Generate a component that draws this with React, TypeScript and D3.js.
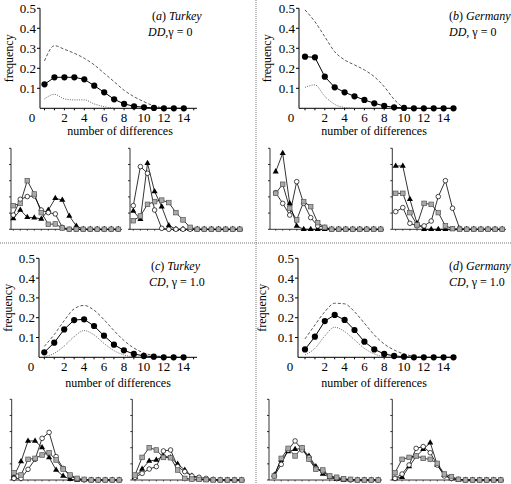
import React from "react";
import * as d3 from "d3";

// ---------- data ----------
const xTickLabels = [2, 4, 6, 8, 10, 12, 14];
const yTickLabels = [0.1, 0.2, 0.3, 0.4, 0.5];
const smallYTicks = [0, 0.1, 0.2, 0.3, 0.4, 0.5];

// (a) Turkey DD
const turkeyDDObs = [0.12, 0.155, 0.155, 0.155, 0.145, 0.113, 0.08, 0.045, 0.022, 0.01, 0.005, 0.002, 0, 0, 0];
const turkeyDDUpper = [0.237, 0.313, 0.295, 0.275, 0.25, 0.217, 0.175, 0.133, 0.09, 0.058, 0.033, 0.012, 0.002, 0];
const turkeyDDLower = [0.047, 0.07, 0.047, 0.042, 0.042, 0.022, 0.008, 0];
// (b) Germany DD
const germanyDDObs = [0.258, 0.255, 0.158, 0.105, 0.08, 0.06, 0.042, 0.025, 0.012, 0.005, 0.002, 0, 0, 0, 0, 0];
const germanyDDUpper = [0.492, 0.433, 0.358, 0.283, 0.242, 0.217, 0.192, 0.158, 0.108, 0.045, 0];
const germanyDDLower = [0.105, 0.117, 0.06, 0.02, 0.004, 0];
// (c) Turkey CD
const turkeyCDObs = [0.025, 0.074, 0.141, 0.188, 0.192, 0.158, 0.109, 0.064, 0.035, 0.017, 0.007, 0.003, 0, 0, 0];
const turkeyCDUpper = [0.055, 0.115, 0.185, 0.245, 0.262, 0.238, 0.19, 0.135, 0.085, 0.047, 0.022, 0.009, 0.003, 0];
const turkeyCDLower = [0.003, 0.02, 0.057, 0.104, 0.135, 0.113, 0.07, 0.034, 0.012, 0.002, 0];
// (d) Germany CD
const germanyCDObs = [0.04, 0.104, 0.183, 0.214, 0.189, 0.138, 0.079, 0.04, 0.017, 0.007, 0.003, 0, 0, 0, 0, 0];
const germanyCDUpper = [0.093, 0.163, 0.23, 0.273, 0.27, 0.23, 0.172, 0.113, 0.067, 0.037, 0.017, 0.005, 0];
const germanyCDLower = [0.012, 0.045, 0.108, 0.152, 0.13, 0.088, 0.045, 0.017, 0.003, 0];

// small charts: squares (grey), open circles, filled triangles
const aLSquares = [0.146, 0.16, 0.3, 0.218, 0.103, 0.031, 0.033, 0.008, 0, 0, 0, 0, 0, 0, 0, 0];
const aLCircles = [0.088, 0.185, 0.202, 0.206, 0.119, 0.103, 0.095, 0.012, 0, 0, 0, 0, 0, 0, 0, 0];
const aLTriangles = [0.066, 0.119, 0.074, 0.072, 0.064, 0.119, 0.191, 0.181, 0.082, 0.021, 0, 0, 0, 0, 0, 0];

const aRSquares = [0.053, 0.082, 0.154, 0.171, 0.18, 0.165, 0.103, 0.058, 0.012, 0, 0, 0, 0, 0, 0, 0];
const aRCircles = [0.146, 0.387, 0.346, 0.119, 0.006, 0, 0, 0, 0, 0, 0, 0, 0, 0, 0, 0];
const aRTriangles = [0.113, 0.062, 0.407, 0.233, 0.14, 0.024, 0, 0, 0, 0, 0, 0, 0, 0, 0, 0];

const bLSquares = [0.222, 0.278, 0.13, 0.058, 0.171, 0.14, 0.041, 0.012, 0, 0, 0, 0, 0, 0, 0, 0];
const bLCircles = [0.226, 0.16, 0.088, 0.294, 0.16, 0.072, 0.021, 0.012, 0, 0, 0, 0, 0, 0, 0, 0];
const bLTriangles = [0.356, 0.469, 0.16, 0.021, 0, 0, 0, 0, 0, 0, 0, 0, 0, 0, 0, 0];

const bRSquares = [0.222, 0.222, 0.103, 0.027, 0.16, 0.154, 0.103, 0.021, 0.004, 0, 0, 0, 0, 0, 0, 0];
const bRCircles = [0.109, 0.134, 0.037, 0.021, 0.021, 0.051, 0.202, 0.3, 0.13, 0.006, 0, 0, 0, 0, 0, 0];
const bRTriangles = [0.391, 0.391, 0.185, 0.037, 0, 0, 0, 0, 0, 0, 0, 0, 0, 0, 0, 0];

const cLSquares = [0.045, 0.031, 0.128, 0.134, 0.155, 0.169, 0.124, 0.068, 0.031, 0.01, 0.004, 0, 0, 0, 0, 0];
const cLCircles = [0.01, 0.01, 0.066, 0.128, 0.258, 0.295, 0.145, 0.072, 0.025, 0.004, 0, 0, 0, 0, 0, 0];
const cLTriangles = [0.025, 0.114, 0.242, 0.242, 0.202, 0.14, 0.062, 0.025, 0.004, 0, 0, 0, 0, 0, 0, 0];

const cRSquares = [0.031, 0.14, 0.2, 0.186, 0.14, 0.138, 0.062, 0.01, 0.006, 0.004, 0.002, 0, 0, 0, 0, 0];
const cRCircles = [0.017, 0.041, 0.068, 0.083, 0.18, 0.186, 0.083, 0.052, 0.025, 0.017, 0.01, 0.004, 0, 0, 0, 0];
const cRTriangles = [0.017, 0.068, 0.118, 0.124, 0.149, 0.14, 0.099, 0.062, 0.025, 0.01, 0, 0, 0, 0, 0, 0];

const dLSquares = [0.025, 0.134, 0.196, 0.149, 0.2, 0.128, 0.066, 0.062, 0.025, 0.017, 0.008, 0.004, 0, 0, 0, 0];
const dLCircles = [0.025, 0.097, 0.186, 0.242, 0.186, 0.14, 0.072, 0.052, 0.021, 0.01, 0.004, 0, 0, 0, 0, 0];
const dLTriangles = [0.031, 0.124, 0.176, 0.19, 0.196, 0.149, 0.083, 0.037, 0.017, 0.004, 0, 0, 0, 0, 0, 0];

const dRSquares = [0.045, 0.128, 0.14, 0.149, 0.134, 0.128, 0.103, 0.037, 0.021, 0.004, 0, 0, 0, 0, 0, 0];
const dRCircles = [0.01, 0.037, 0.093, 0.196, 0.207, 0.169, 0.093, 0.025, 0.01, 0.004, 0, 0, 0, 0, 0, 0];
const dRTriangles = [0.01, 0.017, 0.083, 0.145, 0.19, 0.231, 0.093, 0.031, 0.01, 0, 0, 0, 0, 0, 0, 0];

// ---------- components ----------
const FONT = "'Liberation Serif', 'Times New Roman', Times, serif";
const FS = 12;
const TICK_FS = 13;

type TopProps = {
  axisX: number; x0: number; unit: number; yTop: number; yBase: number; axisEnd: number;
  obs: number[]; upper: number[]; lower: number[];
  title: React.ReactNode; subtitle: React.ReactNode; labelX: number; subX: number;
  freqX: number; xlabelX: number; xlabelY: number;
};

function TopPanel(p: TopProps) {
  const x = d3.scaleLinear().domain([0, 1]).range([p.x0, p.x0 + p.unit]);
  const y = d3.scaleLinear().domain([0, 0.5]).range([p.yBase, p.yTop]);
  const solid = d3.line<number>().x((_, i) => x(i)).y((d) => y(d));
  const smooth = d3.line<number>().x((_, i) => x(i)).y((d) => y(d)).curve(d3.curveMonotoneX);
  const nTicks = d3.range(0, Math.floor(x.invert(p.axisEnd)) + 1);
  const ts: React.CSSProperties = { fontFamily: FONT };
  return (
    <g fill="#000">
      {/* axes */}
      <line x1={p.axisX} x2={p.axisX} y1={p.yTop} y2={p.yBase} stroke="#000" strokeWidth={1} />
      <line x1={p.axisX} x2={p.axisEnd} y1={p.yBase} y2={p.yBase} stroke="#000" strokeWidth={1} />
      {yTickLabels.map((t) => (
        <g key={t}>
          <line x1={p.axisX - 3} x2={p.axisX} y1={y(t)} y2={y(t)} stroke="#000" />
          <text style={ts} x={p.axisX - 4} y={y(t)} dy="0.35em" textAnchor="end" fontSize={TICK_FS}>{t.toFixed(1)}</text>
        </g>
      ))}
      {nTicks.map((t) => (
        <line key={t} x1={x(t)} x2={x(t)} y1={p.yBase} y2={p.yBase + 2} stroke="#000" />
      ))}
      {xTickLabels.map((t) => (
        <text style={ts} key={t} x={x(t)} y={p.yBase + 13.5} textAnchor="middle" fontSize={TICK_FS}>{t}</text>
      ))}
      <text style={ts} x={p.axisX - 8} y={p.yBase + 13.5} textAnchor="middle" fontSize={TICK_FS}>0</text>
      <text style={ts} x={p.xlabelX} y={p.xlabelY} textAnchor="middle" fontSize={FS}>number of differences</text>
      <text style={ts} transform={`translate(${p.freqX},${(p.yTop + p.yBase) / 2}) rotate(-90)`} textAnchor="middle" fontSize={FS}>frequency</text>
      {/* curves */}
      <path d={smooth(p.upper) || ""} fill="none" stroke="#444" strokeWidth={0.9} strokeDasharray="3,2" />
      <path d={smooth(p.lower) || ""} fill="none" stroke="#555" strokeWidth={0.9} strokeDasharray="1,1.3" />
      <path d={solid(p.obs) || ""} fill="none" stroke="#000" strokeWidth={1} />
      {p.obs.map((v, i) => (
        <circle key={i} cx={x(i)} cy={y(v)} r={3.1} fill="#000" />
      ))}
      <text style={ts} x={p.labelX} y={p.yTop + 12} fontSize={FS}>{p.title}</text>
      <text style={ts} x={p.subX} y={p.yTop + 27.5} fontSize={FS}>{p.subtitle}</text>
    </g>
  );
}

type SmallProps = {
  axisX: number; x0: number; step: number; yTop: number; yBase: number; axisEnd: number;
  squares: number[]; circles: number[]; triangles: number[];
};

function SmallChart(p: SmallProps) {
  const x = d3.scaleLinear().domain([0, 1]).range([p.x0, p.x0 + p.step]);
  const y = d3.scaleLinear().domain([0, 0.5]).range([p.yBase, p.yTop]);
  const line = d3.line<number>().x((_, i) => x(i)).y((d) => y(d));
  const tri = d3.symbol().type(d3.symbolTriangle).size(16);
  return (
    <g>
      <line x1={p.axisX} x2={p.axisX} y1={p.yTop} y2={p.yBase} stroke="#000" strokeWidth={0.8} />
      <line x1={p.axisX} x2={p.axisEnd} y1={p.yBase} y2={p.yBase} stroke="#000" strokeWidth={0.8} />
      {smallYTicks.map((t) => (
        <line key={t} x1={p.axisX - 2} x2={p.axisX} y1={y(t)} y2={y(t)} stroke="#000" strokeWidth={0.8} />
      ))}
      {p.squares.map((_, i) => (
        <line key={i} x1={x(i)} x2={x(i)} y1={p.yBase} y2={p.yBase + 1.5} stroke="#000" strokeWidth={0.6} />
      ))}
      <path d={line(p.triangles) || ""} fill="none" stroke="#000" strokeWidth={0.8} />
      <path d={line(p.circles) || ""} fill="none" stroke="#000" strokeWidth={0.8} />
      <path d={line(p.squares) || ""} fill="none" stroke="#000" strokeWidth={0.8} />
      {p.triangles.map((v, i) => (
        <path key={i} d={tri() || ""} transform={`translate(${x(i)},${y(v)})`} fill="#000" />
      ))}
      {p.circles.map((v, i) => (
        <circle key={i} cx={x(i)} cy={y(v)} r={2.3} fill="#fff" stroke="#000" strokeWidth={0.7} />
      ))}
      {p.squares.map((v, i) => (
        <rect key={i} x={x(i) - 2.3} y={y(v) - 2.3} width={4.6} height={4.6} fill="#a9a9a9" stroke="#555" strokeWidth={0.7} />
      ))}
    </g>
  );
}

export default function App() {
  return (
    <svg width={511} height={484} style={{ position: "absolute", left: 0, top: 0, background: "#fff", fontFamily: FONT }}>
      <rect width={511} height={484} fill="#fff" />
      {/* separators */}
      <line x1={256} x2={256} y1={0} y2={484} stroke="#777" strokeWidth={1} strokeDasharray="1,1" />
      <line x1={0} x2={511} y1={243} y2={243} stroke="#777" strokeWidth={1} strokeDasharray="1,1" />

      <TopPanel axisX={40} x0={44.5} unit={9.95} yTop={8.3} yBase={108.3} axisEnd={197}
        obs={turkeyDDObs} upper={turkeyDDUpper} lower={turkeyDDLower}
        title={<><tspan>(</tspan><tspan fontStyle="italic">a</tspan><tspan>) </tspan><tspan fontStyle="italic">Turkey</tspan></>}
        subtitle={<><tspan fontStyle="italic">DD</tspan><tspan>,γ = 0</tspan></>}
        labelX={152} subX={148} freqX={13} xlabelX={120} xlabelY={135} />
      <TopPanel axisX={299} x0={305} unit={9.9} yTop={8.3} yBase={108.3} axisEnd={456}
        obs={germanyDDObs} upper={germanyDDUpper} lower={germanyDDLower}
        title={<><tspan>(</tspan><tspan fontStyle="italic">b</tspan><tspan>) </tspan><tspan fontStyle="italic">Germany</tspan></>}
        subtitle={<><tspan fontStyle="italic">DD</tspan><tspan>, γ = 0</tspan></>}
        labelX={449} subX={449} freqX={271} xlabelX={374} xlabelY={135} />
      <TopPanel axisX={39} x0={44.3} unit={9.95} yTop={258.3} yBase={357.3} axisEnd={197}
        obs={turkeyCDObs} upper={turkeyCDUpper} lower={turkeyCDLower}
        title={<><tspan>(</tspan><tspan fontStyle="italic">c</tspan><tspan>) </tspan><tspan fontStyle="italic">Turkey</tspan></>}
        subtitle={<><tspan fontStyle="italic">CD</tspan><tspan>, γ = 1.0</tspan></>}
        labelX={151} subX={149} freqX={12} xlabelX={118} xlabelY={387} />
      <TopPanel axisX={298} x0={305} unit={9.9} yTop={258.3} yBase={357.3} axisEnd={456}
        obs={germanyCDObs} upper={germanyCDUpper} lower={germanyCDLower}
        title={<><tspan>(</tspan><tspan fontStyle="italic">d</tspan><tspan>) </tspan><tspan fontStyle="italic">Germany</tspan></>}
        subtitle={<><tspan fontStyle="italic">CD</tspan><tspan>, γ = 1.0</tspan></>}
        labelX={449} subX={449} freqX={266} xlabelX={374} xlabelY={387} />

      <SmallChart axisX={11} x0={13.3} step={7} yTop={148.3} yBase={229.3} axisEnd={122}
        squares={aLSquares} circles={aLCircles} triangles={aLTriangles} />
      <SmallChart axisX={130} x0={133.3} step={7.1} yTop={148.3} yBase={229.3} axisEnd={243}
        squares={aRSquares} circles={aRCircles} triangles={aRTriangles} />
      <SmallChart axisX={270} x0={275.7} step={7} yTop={148.3} yBase={229.3} axisEnd={384}
        squares={bLSquares} circles={bLCircles} triangles={bLTriangles} />
      <SmallChart axisX={392.3} x0={395.7} step={7.1} yTop={148.3} yBase={229.3} axisEnd={506}
        squares={bRSquares} circles={bRCircles} triangles={bRTriangles} />
      <SmallChart axisX={11.7} x0={14} step={7.02} yTop={399.3} yBase={480} axisEnd={123}
        squares={cLSquares} circles={cLCircles} triangles={cLTriangles} />
      <SmallChart axisX={132.3} x0={135} step={7.11} yTop={399.3} yBase={480} axisEnd={245}
        squares={cRSquares} circles={cRCircles} triangles={cRTriangles} />
      <SmallChart axisX={269} x0={274.3} step={6.93} yTop={399.3} yBase={480} axisEnd={382}
        squares={dLSquares} circles={dLCircles} triangles={dLTriangles} />
      <SmallChart axisX={392.3} x0={395} step={7.05} yTop={399.3} yBase={480} axisEnd={504}
        squares={dRSquares} circles={dRCircles} triangles={dRTriangles} />
    </svg>
  );
}
